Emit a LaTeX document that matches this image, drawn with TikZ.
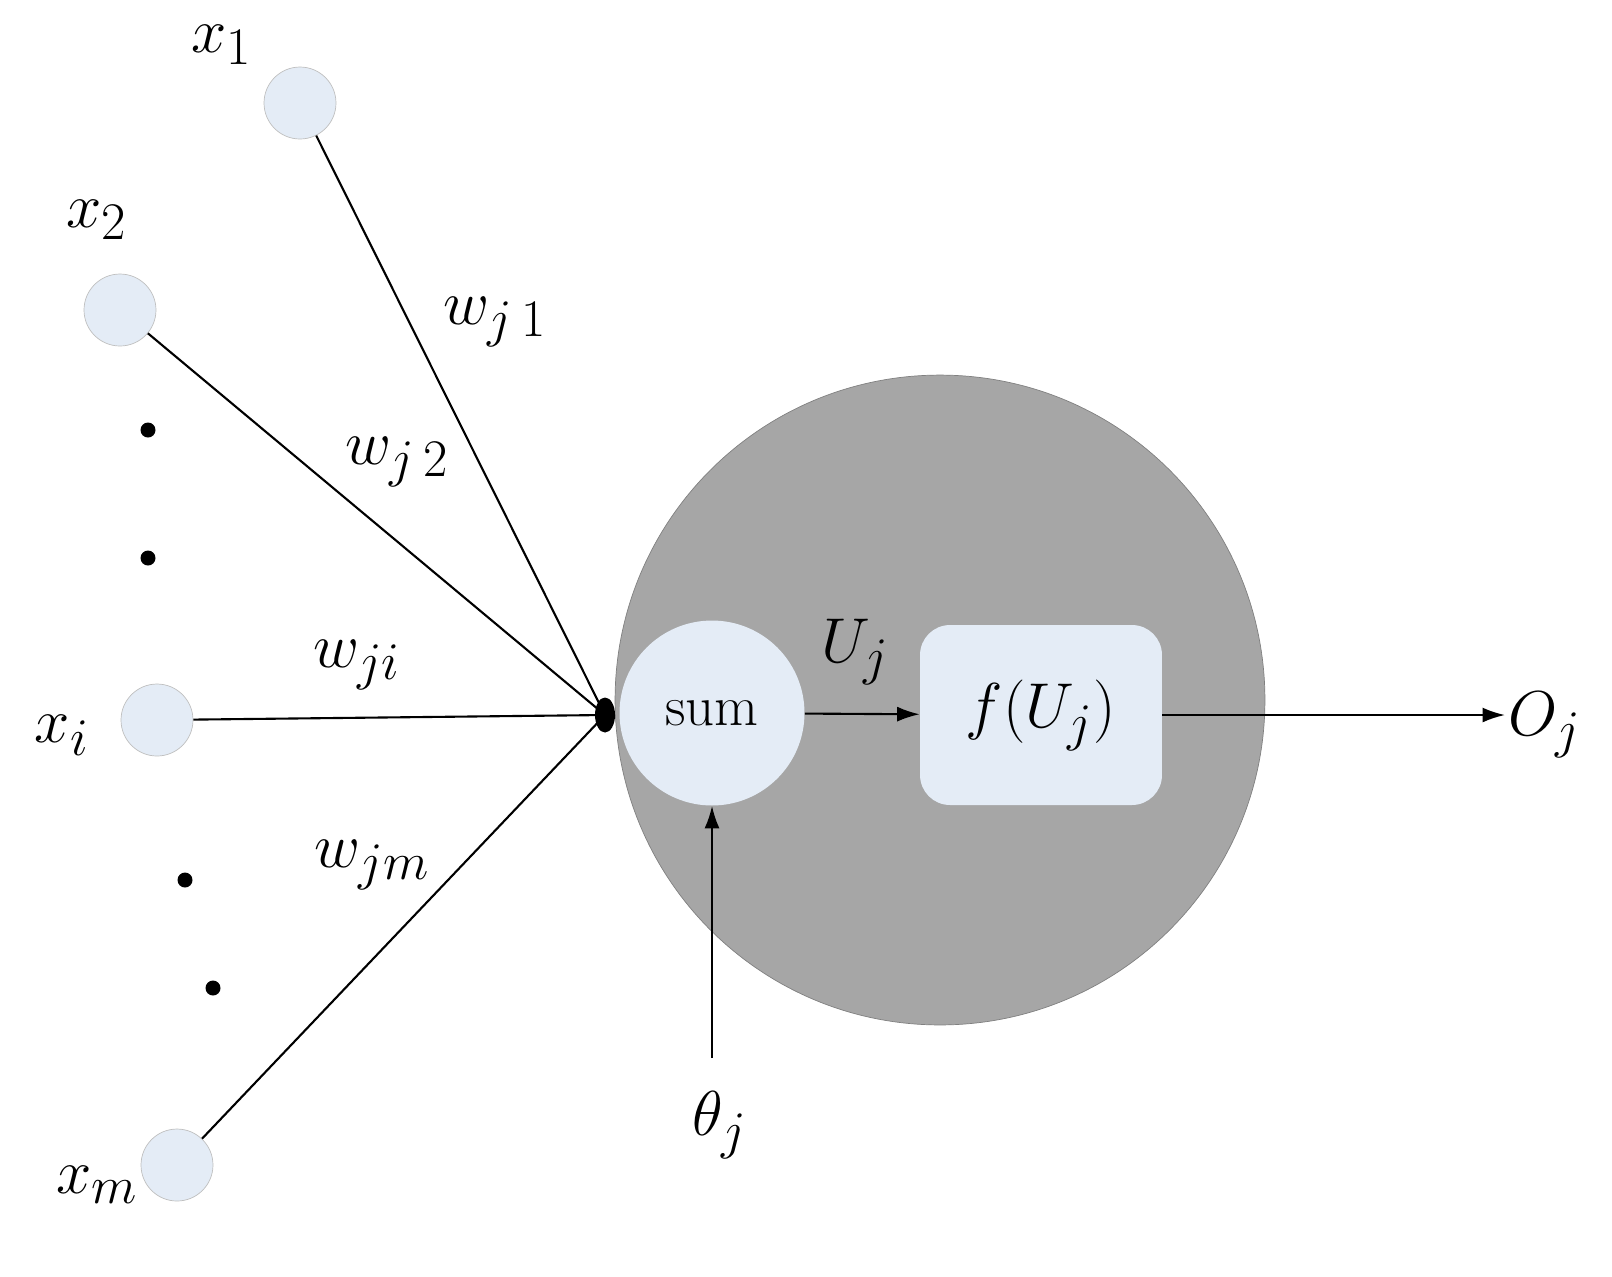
\documentclass[tikz,border=0pt]{standalone}
\usepackage{graphicx}
\usetikzlibrary{arrows.meta}
\definecolor{pale}{HTML}{E4ECF6}
\newcommand\BigTxt[1]{\scalebox{1.45}{\Huge #1}}
\begin{document}
\begin{tikzpicture}[x=0.02cm,y=-0.02cm,
  inp/.style={circle,draw=gray!50,fill=pale,minimum size=1.44cm,inner sep=0},
  lbl/.style={inner sep=0},
  dot/.style={circle,fill=black,inner sep=0,minimum size=0.3cm},
  arr/.style={-{Latex[length=0.45cm,width=0.3cm]},line width=1.2pt},
  edge/.style={line width=1.2pt}]
\useasboundingbox (0,0) rectangle (1612,1276);
\fill[gray!70,draw=black!50] (940,700) circle[radius=6.5cm];
\node[inp] (x1) at (300,103) {};
\node[inp] (x2) at (120,310) {};
\node[inp] (xi) at (157,720) {};
\node[inp] (xm) at (177,1165) {};
\node[dot] (d1) at (148,430) {};
\node[dot] (d2) at (148,558) {};
\node[dot] (d3) at (185,880) {};
\node[dot] (d4) at (213,988) {};
\node[lbl] (lx1) at (222,45) {\BigTxt{$x_1$}};
\node[lbl] (lx2) at (97,220) {\BigTxt{$x_2$}};
\node[lbl] (lxi) at (62,735) {\BigTxt{$x_i$}};
\node[lbl] (lxm) at (97,1185) {\BigTxt{$x_m$}};
\coordinate (J) at (605,715);
\node[circle,fill=pale,minimum size=3.7cm,inner sep=0] (sum) at (712,713) {\scalebox{1.3}{\Huge sum}};
\node[rounded corners=0.6cm,fill=pale,minimum width=4.84cm,minimum height=3.6cm] (f) at (1041,715) {\BigTxt{$f(U_j)$}};
\coordinate (O) at (1505,715);
\coordinate (T) at (712,1058);
\draw[edge] (x1) -- (J);
\draw[edge] (x2) -- (J);
\draw[edge] (xi) -- (J);
\draw[edge] (xm) -- (J);
\fill (J) ellipse[x radius=0.2cm,y radius=0.35cm];
\draw[arr] (sum) -- (f);
\draw[arr] (f) -- (O);
\draw[arr] (T) -- (sum);
\node[lbl] (U) at (855,652) {\BigTxt{$U_j$}};
\node[lbl,anchor=west] (Oj) at (1508,725) {\BigTxt{$O_j$}};
\node[lbl] (th) at (720,1125) {\BigTxt{$\theta_j$}};
\node[lbl] (w1) at (495,322) {\BigTxt{$w_{j\,1}$}};
\node[lbl] (w2) at (397,462) {\BigTxt{$w_{j\,2}$}};
\node[lbl] (wi) at (357,665) {\BigTxt{$w_{ji}$}};
\node[lbl] (wm) at (372,865) {\BigTxt{$w_{jm}$}};
\end{tikzpicture}
\end{document}
